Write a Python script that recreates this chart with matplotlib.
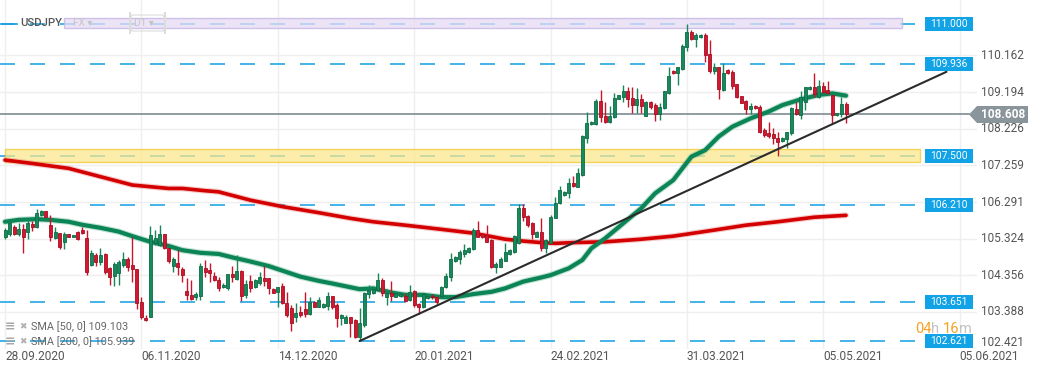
import matplotlib
matplotlib.use('Agg')
import matplotlib.pyplot as plt
from matplotlib.patches import Rectangle, Polygon, FancyBboxPatch
import numpy as np

plt.rcParams['font.family'] = ['Roboto', 'DejaVu Sans']

# ---------------- data (USDJPY D1) ----------------
opens = [105.38,105.44,105.62,105.44,105.58,105.49,105.71,105.62,105.94,106.05,
         105.68,105.33,105.48,105.24,105.45,105.37,105.49,105.55,105.33,104.63,
         104.89,104.72,104.91,104.54,104.34,104.41,104.63,104.79,104.63,104.52,
         103.66,103.24,103.26,105.20,105.16,105.45,105.09,104.61,104.67,104.51,
         103.94,103.84,103.79,103.81,104.54,104.50,104.34,104.23,104.05,104.01,
         104.38,104.25,104.47,103.84,104.21,104.05,104.16,104.28,104.28,103.99,
         103.92,104.07,103.62,103.49,103.26,103.39,103.47,103.33,103.65,103.53,
         103.51,103.55,103.81,103.57,103.22,103.11,103.25,103.18,102.72,103.04,
         103.86,103.88,103.97,104.23,103.78,103.88,103.79,103.81,103.81,103.70,
         103.93,103.60,103.51,103.77,103.82,103.78,103.80,104.05,104.30,104.74,
         104.78,104.92,104.98,105.04,105.55,105.45,105.42,105.29,104.57,104.58,
         104.74,104.92,104.98,105.20,106.13,105.92,105.73,105.38,105.50,105.07,
         105.22,105.86,106.26,106.48,106.52,106.80,106.70,107.00,107.97,108.34,
         108.35,108.96,108.56,108.41,108.53,109.02,109.07,109.21,109.03,108.85,
         109.01,108.57,108.94,108.85,108.62,108.77,109.16,109.75,109.71,109.80,
         110.38,110.77,110.59,110.64,110.70,110.20,109.76,109.86,109.25,109.78,
         109.73,109.41,109.09,108.97,108.74,108.83,108.81,108.19,108.12,108.09,
         107.99,107.91,107.95,108.11,108.74,108.59,108.94,109.27,109.34,109.06,
         109.35,109.25,109.12,108.59,108.62,108.88]
highs = [105.60,105.76,105.68,105.73,105.71,105.82,105.80,106.10,106.08,106.05,
         105.95,105.62,105.48,105.50,105.45,105.43,105.52,105.64,105.55,105.02,
         104.94,105.07,104.94,104.58,104.72,104.76,104.96,104.83,105.38,104.52,
         103.78,103.31,105.66,105.55,105.68,105.45,105.09,104.85,105.02,104.58,
         104.28,104.23,103.92,104.67,104.76,104.67,104.45,104.30,104.14,104.40,
         104.60,104.89,104.50,104.23,104.36,104.25,104.44,104.60,104.28,104.01,
         104.05,104.14,103.92,103.57,103.62,103.55,103.92,103.78,103.68,103.78,
         103.63,103.92,103.81,103.62,103.33,103.31,103.26,103.19,103.49,103.92,
         104.10,104.01,104.41,104.28,103.99,104.21,103.92,103.88,103.90,104.10,
         103.97,103.63,103.88,103.85,103.86,103.80,104.08,104.42,104.94,104.87,
         105.02,105.18,105.11,105.60,105.79,105.48,105.68,105.31,104.72,104.83,
         105.20,105.04,105.42,106.24,106.24,105.94,105.77,105.52,105.86,105.31,
         105.95,106.42,106.71,106.58,106.92,106.98,107.18,108.06,108.68,108.42,
         109.00,109.25,108.94,108.83,109.18,109.13,109.38,109.34,109.34,109.29,
         109.14,108.97,108.97,108.90,108.90,109.23,109.86,109.77,109.86,110.46,
         110.99,110.83,110.75,110.72,110.75,110.57,109.97,109.86,109.97,109.80,
         109.78,109.41,109.09,108.99,108.90,108.85,108.85,108.24,108.41,108.24,
         108.15,108.00,108.15,108.81,108.94,109.23,109.34,109.36,109.71,109.51,
         109.47,109.49,109.12,108.65,109.06,108.94]
lows = [105.31,105.39,105.41,105.39,104.95,105.31,105.53,105.60,105.92,105.89,
        105.27,105.31,105.05,105.05,105.36,105.36,105.29,105.46,104.36,104.61,
        104.60,104.63,104.40,104.11,104.07,104.11,104.58,104.48,104.19,103.46,
        103.19,103.15,103.25,105.16,105.13,105.04,104.69,104.45,104.36,104.19,
        103.70,103.70,103.70,103.70,104.32,104.19,104.21,103.94,104.01,103.97,
        104.19,104.23,103.69,103.77,103.92,104.03,104.11,104.07,103.86,103.88,
        103.53,103.60,103.26,102.89,103.13,103.26,103.25,103.30,103.51,103.51,
        103.49,103.44,103.46,102.98,103.04,103.09,102.74,102.69,102.62,103.00,
        103.75,103.86,103.95,103.81,103.57,103.69,103.78,103.79,103.66,103.69,
        103.51,103.33,103.49,103.74,103.72,103.60,103.76,104.02,104.21,104.72,
        104.66,104.85,104.95,105.02,105.36,105.33,105.23,104.54,104.42,104.57,
        104.73,104.90,104.95,105.18,105.80,105.62,105.31,105.37,105.01,104.95,
        105.20,105.86,106.24,106.46,106.39,106.70,106.68,106.98,107.84,108.32,
        108.33,108.41,108.39,108.39,108.52,109.00,108.94,108.79,108.63,108.65,
        108.63,108.56,108.74,108.44,108.46,108.74,109.14,109.67,109.38,109.78,
        110.29,110.57,110.39,110.62,110.00,109.69,109.67,109.00,109.23,109.67,
        109.27,109.03,108.90,108.62,108.62,108.75,108.11,108.00,107.97,107.82,
        107.51,107.88,107.71,108.06,108.59,108.48,108.72,109.25,109.06,109.03,
        109.16,109.14,108.37,108.57,108.54,108.37]
closes = [105.55,105.73,105.45,105.57,105.38,105.75,105.62,105.99,106.05,105.90,
          105.36,105.51,105.11,105.46,105.38,105.42,105.31,105.48,104.45,104.95,
          104.72,104.89,104.45,104.30,104.66,104.72,104.79,104.57,104.51,103.62,
          103.26,103.17,105.42,105.33,105.46,105.07,104.74,104.78,104.58,104.36,
          103.84,103.73,103.86,104.60,104.45,104.43,104.23,104.03,104.11,104.39,
          104.32,104.47,103.81,104.13,104.01,104.23,104.32,104.21,104.03,103.90,
          104.05,103.62,103.31,103.11,103.37,103.31,103.33,103.64,103.53,103.70,
          103.61,103.81,103.53,103.22,103.31,103.26,103.11,102.74,103.09,103.88,
          103.97,103.99,104.23,103.88,103.88,103.81,103.90,103.86,103.69,103.92,
          103.57,103.51,103.86,103.81,103.78,103.64,104.05,104.35,104.78,104.85,
          104.98,105.02,105.07,105.55,105.38,105.36,105.24,104.57,104.65,104.78,
          104.98,105.02,105.39,106.13,105.89,105.68,105.46,105.51,105.07,105.29,
          105.90,106.27,106.61,106.56,106.79,106.72,107.05,108.03,108.37,108.40,
          108.97,108.53,108.41,108.56,109.03,109.11,109.21,109.00,108.85,109.01,
          108.83,108.94,108.81,108.62,108.79,109.21,109.62,109.69,109.85,110.41,
          110.77,110.59,110.70,110.70,110.17,109.76,109.85,109.27,109.71,109.69,
          109.36,109.06,108.91,108.74,108.83,108.77,108.15,108.06,108.03,107.97,
          107.88,107.99,108.15,108.77,108.62,109.06,109.34,109.34,109.14,109.35,
          109.20,109.18,108.59,108.63,108.88,108.61]

sma50_idx = [0,3,7,10,14,17,21,25,28,32,36,39,43,47,50,54,58,61,65,69,
             72,76,78,81,85,88,92,96,99,103,107,110,114,118,120,124,127,129,132,136,
             140,143,147,151,154,157,160,164,168,171,175,179,182,185]
sma50_val = [105.77,105.82,105.84,105.82,105.77,105.69,105.61,105.51,105.39,105.24,
             105.13,105.02,104.95,104.92,104.83,104.72,104.60,104.48,104.32,104.21,
             104.14,104.04,103.99,104.01,103.90,103.84,103.84,103.78,103.78,103.86,
             103.92,104.01,104.19,104.30,104.36,104.54,104.76,105.07,105.33,105.73,
             106.13,106.52,106.87,107.49,107.66,108.02,108.28,108.50,108.68,108.85,
             109.00,109.12,109.16,109.10]
sma200_idx = [0,6,14,21,28,36,39,44,47,54,61,69,76,81,88,96,103,110,114,118,
              121,125,132,140,147,156,163,170,178,185]
sma200_val = [107.40,107.31,107.18,106.96,106.74,106.65,106.65,106.59,106.56,106.34,
              106.17,106.01,105.86,105.77,105.68,105.57,105.47,105.31,105.26,105.22,
              105.20,105.22,105.24,105.31,105.39,105.55,105.68,105.77,105.89,105.94]

date_tick_idx = [0, 30, 60, 90, 120, 150, 180, 210]
date_labels = ['28.09.2020', '06.11.2020', '14.12.2020', '20.01.2021',
               '24.02.2021', '31.03.2021', '05.05.2021', '05.06.2021']
price_ticks = [110.162, 109.194, 108.226, 107.259, 106.291, 105.324, 104.356, 103.388, 102.421]
levels = [111.000, 109.936, 106.210, 103.651, 102.621]
zone_level = 107.500
zone_low, zone_high = 107.36, 107.68
top_zone_low, top_zone_high = 110.88, 111.14
price_now = 108.608
trend_x = [78, 207.1]
trend_y = [102.621, 109.73]
sma50_last = 109.103
sma200_last = 105.939

# ---------------- figure ----------------
W, H = 1041, 374
fig = plt.figure(figsize=(W / 100, H / 100), dpi=100)
fig.patch.set_facecolor('white')
ax = fig.add_axes([0, 25 / H, 977 / W, 349 / H])
X0, PXI = -1.1, 4.546           # index at left edge, px per bar
YTOP, PXP = 111.626, 37.87      # price at top edge, px per price unit
ax.set_xlim(X0, X0 + 977 / PXI)
ax.set_ylim(YTOP - 349 / PXP, YTOP)
ax.axis('off')

def ix(xpx):
    return X0 + xpx / PXI

def py(ypx):
    return YTOP - ypx / PXP

# grid
for p in price_ticks:
    ax.axhline(p, color='#efefef', lw=1, zorder=0)
for i in date_tick_idx:
    ax.axvline(i, color='#efefef', lw=1, zorder=0)

# dashed levels
dash_col = '#22a7e3'
for lv in levels:
    ax.plot([ix(0), ix(920)], [lv, lv], color=dash_col, lw=1.2, ls=(0, (9, 9)), zorder=1)
ax.plot([ix(0), ix(920)], [zone_level, zone_level], color=dash_col, lw=1.2,
        ls=(0, (9, 9)), zorder=1)

# zones
ax.add_patch(Rectangle((ix(64), top_zone_low), ix(902) - ix(64), top_zone_high - top_zone_low,
                       facecolor='#e6dcf3', edgecolor='#c2b2e2', lw=1, alpha=0.75, zorder=1.5))
ax.add_patch(Rectangle((ix(5), zone_low), ix(920) - ix(5), zone_high - zone_low,
                       facecolor='#fce88a', edgecolor='#f2c52a', lw=1, alpha=0.72, zorder=1.5))

# current price line
ax.plot([ix(0), ix(969)], [price_now, price_now], color='#7e8a92', lw=1.2, zorder=2)

# SMA lines
ax.plot(sma200_idx, sma200_val, color='#e06a6a', lw=4.2, alpha=0.35, zorder=2.5,
        solid_capstyle='round')
ax.plot(sma200_idx, sma200_val, color='#d40000', lw=2.6, zorder=2.6, solid_capstyle='round')
ax.plot(sma50_idx, sma50_val, color='#4fae86', lw=4.6, alpha=0.35, zorder=2.5,
        solid_capstyle='round')
ax.plot(sma50_idx, sma50_val, color='#0b8456', lw=3.0, zorder=2.6, solid_capstyle='round')

# candles
o = np.array(opens); h = np.array(highs); l = np.array(lows); c = np.array(closes)
idx = np.arange(len(o))
up = c >= o
body_col = np.where(up, '#168a5c', '#d3172f')
edge_col = np.where(up, '#0d6b45', '#a50f22')
wick_col = np.where(up, '#17865a', '#c8152c')
ax.vlines(idx, l, h, colors=wick_col, lw=1.0, zorder=3)
ax.bar(idx, np.maximum(np.abs(c - o), 0.035), bottom=np.minimum(o, c), width=0.66,
       color=body_col, edgecolor=edge_col, linewidth=0.6, zorder=3.5)

# trend line
ax.plot(trend_x, trend_y, color='#2b2b2b', lw=1.5, zorder=5, solid_capstyle='round')

# x labels
for i, lab in zip(date_tick_idx, date_labels):
    ax.text(i, py(356.5), lab, ha='left', va='center', fontsize=8.6, color='#555555',
            clip_on=False)

# y labels
for p in price_ticks:
    yp = p if p > 102.5 else p + 0.15
    ax.text(ix(981), yp, f'{p:.3f}', ha='left', va='center', fontsize=8.5,
            color='#555555', clip_on=False)

# level boxes
for lv in levels + [zone_level]:
    ax.add_patch(Rectangle((ix(925), lv - 7.2 / PXP), 48 / PXI, 14.4 / PXP,
                           facecolor='#12a3e7', edgecolor='none', zorder=6, clip_on=False))
    ax.text(ix(949), lv, f'{lv:.3f}', ha='center', va='center', fontsize=7.4,
            color='white', zorder=7, clip_on=False)

# current price tag
tag = [(969, 114.5), (977, 106), (1028, 106), (1028, 123), (977, 123)]
ax.add_patch(Polygon([(ix(x), py(y)) for x, y in tag], closed=True, facecolor='#8a949b',
                     edgecolor='none', zorder=6, clip_on=False))
ax.text(ix(1003), price_now, f'{price_now:.3f}', ha='center', va='center', fontsize=8.6,
        fontweight='bold', color='white', zorder=7, clip_on=False)

# SMA legend
for ypx, txt in [(327, f'SMA [50, 0] {sma50_last:.3f}'), (342, f'SMA [200, 0] {sma200_last:.3f}')]:
    ax.text(ix(5), py(ypx), '≡', ha='left', va='center', fontsize=9, color='#a8a8a8',
            fontweight='bold', family=['DejaVu Sans'], zorder=7)
    ax.text(ix(19), py(ypx), '✖', ha='left', va='center', fontsize=6.5, color='#b0b0b0',
            family=['DejaVu Sans'], zorder=7)
    ax.text(ix(31), py(ypx), txt, ha='left', va='center', fontsize=7.8, color='#666666',
            zorder=7)

# timer
for xpx, s, col in [(915, '04', '#f5a225'), (931.5, 'h', '#c2c2c2'),
                    (943, '16', '#f5a225'), (959.5, 'm', '#c2c2c2')]:
    ax.text(ix(xpx), py(329), s, ha='left', va='center', fontsize=10.5, color=col,
            zorder=7, clip_on=False)

# header
ax.plot([ix(2), ix(17)], [py(23.5), py(23.5)], color='#1a9ee0', lw=1.2, zorder=7)
ax.text(ix(20), py(23.5), 'USDJPY', ha='left', va='center', fontsize=8.2, color='#555555',
        fontweight='medium', zorder=7)
ax.text(ix(73), py(23.5), 'FX ▾', ha='left', va='center', fontsize=7.2, color='#c4c4c4',
        zorder=7)
ax.add_patch(FancyBboxPatch((ix(130), py(31)), ix(165) - ix(130), py(15) - py(31),
                            boxstyle='round,pad=0,rounding_size=0.5', facecolor='none',
                            edgecolor='#dcdcdc', lw=0.8, zorder=7))
ax.text(ix(134), py(23.5), 'D1 ▾', ha='left', va='center', fontsize=7.2, color='#c4c4c4',
        zorder=7)

fig.savefig('out.png', dpi=100, facecolor='white')
